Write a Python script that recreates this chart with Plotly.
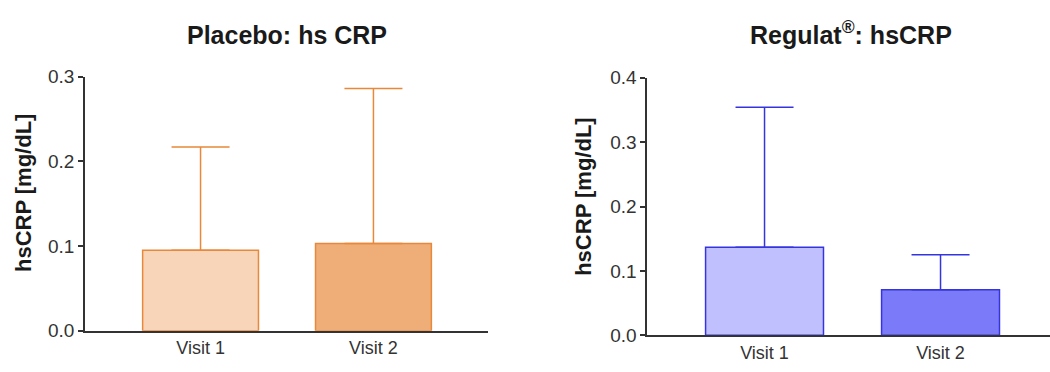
import plotly.graph_objects as go

categories = ["Visit 1", "Visit 2"]
placebo_mean = [0.095, 0.103]
placebo_sd = [0.122, 0.183]
regulat_mean = [0.137, 0.071]
regulat_sd = [0.217, 0.054]

placebo_fill = ["#F8D5B9", "#EFAE78"]
placebo_line = "#E8883A"
regulat_fill = ["#C0C0FF", "#7B7BF9"]
regulat_line = "#3535E0"

FONT = "Liberation Sans, Arial, sans-serif"
xpos = list(range(len(categories)))

fig = go.Figure()
fig.add_trace(go.Bar(
    x=xpos, y=placebo_mean, width=0.67,
    marker=dict(color=placebo_fill, line=dict(color=placebo_line, width=1.5)),
    error_y=dict(type="data", array=placebo_sd, arrayminus=[0, 0], symmetric=False,
                 color=placebo_line, thickness=1.5, width=29),
    xaxis="x", yaxis="y", showlegend=False, hoverinfo="skip"))
fig.add_trace(go.Bar(
    x=xpos, y=regulat_mean, width=0.67,
    marker=dict(color=regulat_fill, line=dict(color=regulat_line, width=1.5)),
    error_y=dict(type="data", array=regulat_sd, arrayminus=[0, 0], symmetric=False,
                 color=regulat_line, thickness=1.5, width=29),
    xaxis="x2", yaxis="y2", showlegend=False, hoverinfo="skip"))

axis_common = dict(showline=True, linecolor="#333333", linewidth=1.8, showgrid=False,
                   zeroline=False)
xtickfont = dict(family=FONT, size=18, color="#333333")
ytickfont = dict(family=FONT, size=19, color="#333333")

fig.update_layout(
    width=1050, height=372,
    margin=dict(l=0, r=0, t=0, b=0),
    paper_bgcolor="white", plot_bgcolor="white",
    font=dict(family=FONT),
    xaxis=dict(domain=[0.081, 0.465], range=[-0.668, 1.664], tickmode="array",
               tickvals=xpos, ticktext=categories, ticks="", anchor="y",
               tickfont=xtickfont, **axis_common),
    yaxis=dict(domain=[0.086, 0.81], range=[0, 0.3], tickmode="array",
               tickvals=[0, 0.1, 0.2, 0.3], ticktext=["0.0", "0.1", "0.2", "0.3"],
               ticks="outside", ticklen=5, tickwidth=1.5, tickcolor="#333333",
               anchor="x", tickfont=ytickfont, **axis_common),
    xaxis2=dict(domain=[0.6165, 1.0], range=[-0.666, 1.622], tickmode="array",
                tickvals=xpos, ticktext=categories, ticks="", anchor="y2",
                tickfont=xtickfont, **axis_common),
    yaxis2=dict(domain=[0.073, 0.807], range=[0, 0.4], tickmode="array",
                tickvals=[0, 0.1, 0.2, 0.3, 0.4], ticktext=["0.0", "0.1", "0.2", "0.3", "0.4"],
                ticks="outside", ticklen=5, tickwidth=1.5, tickcolor="#333333",
                anchor="x2", tickfont=ytickfont, **axis_common),
    annotations=[
        dict(text="<b>Placebo: hs CRP</b>", x=286.5 / 1050, y=1 - 43 / 372, xref="paper", yref="paper",
             showarrow=False, xanchor="center", yanchor="bottom",
             font=dict(family=FONT, size=25, color="#1a1a1a")),
        dict(text="<b>Regulat<sup>®</sup>: hsCRP</b>", x=851 / 1050, y=1 - 43 / 372, xref="paper", yref="paper",
             showarrow=False, xanchor="center", yanchor="bottom",
             font=dict(family=FONT, size=25, color="#1a1a1a")),
        dict(text="<b>hsCRP [mg/dL]</b>", x=23 / 1050, y=1 - 194 / 372, xref="paper", yref="paper",
             showarrow=False, xanchor="center", yanchor="middle", textangle=-90,
             font=dict(family=FONT, size=22, color="#1a1a1a")),
        dict(text="<b>hsCRP [mg/dL]</b>", x=584 / 1050, y=1 - 198 / 372, xref="paper", yref="paper",
             showarrow=False, xanchor="center", yanchor="middle", textangle=-90,
             font=dict(family=FONT, size=22, color="#1a1a1a")),
    ],
)

fig.write_html("out.html")
